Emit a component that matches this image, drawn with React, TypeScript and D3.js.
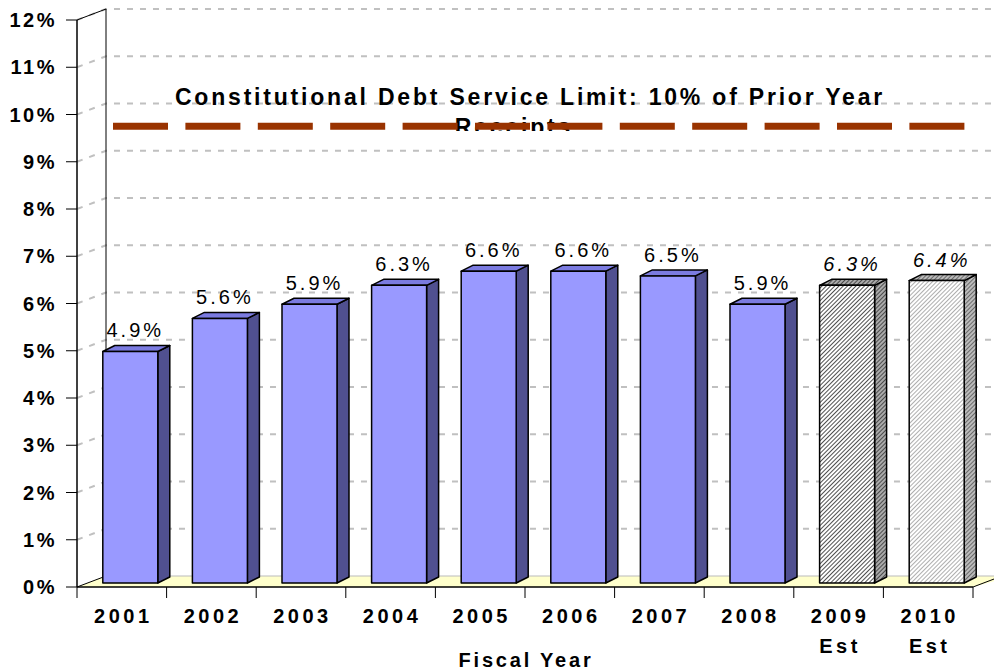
import React from "react";
import * as d3 from "d3";

const years = ["2001", "2002", "2003", "2004", "2005", "2006", "2007", "2008", "2009", "2010"];
const subLabels = ["", "", "", "", "", "", "", "", "Est", "Est"];
const debtRatio = [4.9, 5.6, 5.9, 6.3, 6.6, 6.6, 6.5, 5.9, 6.3, 6.4];
const estimated = [false, false, false, false, false, false, false, false, true, true];
const yTicks = [0, 1, 2, 3, 4, 5, 6, 7, 8, 9, 10, 11, 12];
const limitLevel = 9.75;
const limitTitle = "Constitutional Debt Service Limit: 10% of Prior Year";
const limitTitle2 = "Receipts";

const W = 994;
const H = 671;
const FONT = "'Liberation Sans', Arial, sans-serif";

// 3d depth of the box and of the bars
const DX = 29, DY = -11;
const BX0 = 8.5, BY0 = -4;
const BDX = 12, BDY = -6;

const App = () => {
  const x = d3.scaleBand().domain(years).range([77, 973]).paddingInner(0).paddingOuter(0);
  const y = d3.scaleLinear().domain([0, 12]).range([587, 20]);
  const bw = 55;

  const gridPath = (v: number) => `M${77},${y(v)} L${77 + DX},${y(v) + DY} L${W},${y(v) + DY}`;

  return (
    <svg width={W} height={H} style={{ position: "absolute", left: 0, top: 0, background: "#fff" }}>
      <defs>
        <pattern id="hatchDark" width="3" height="3" patternUnits="userSpaceOnUse" patternTransform="rotate(45)">
          <rect width="3" height="3" fill="#fff" />
          <line x1="0" y1="0" x2="0" y2="3" stroke="#222" strokeWidth="1.6" />
        </pattern>
        <pattern id="hatchDarkSide" width="3" height="3" patternUnits="userSpaceOnUse" patternTransform="rotate(45)">
          <rect width="3" height="3" fill="#aaa" />
          <line x1="0" y1="0" x2="0" y2="3" stroke="#333" strokeWidth="1.6" />
        </pattern>
        <pattern id="hatchLight" width="3" height="3" patternUnits="userSpaceOnUse" patternTransform="rotate(45)">
          <rect width="3" height="3" fill="#fff" />
          <line x1="0" y1="0" x2="0" y2="3" stroke="#999" strokeWidth="1.6" />
        </pattern>
        <pattern id="hatchLightSide" width="3" height="3" patternUnits="userSpaceOnUse" patternTransform="rotate(45)">
          <rect width="3" height="3" fill="#bbb" />
          <line x1="0" y1="0" x2="0" y2="3" stroke="#555" strokeWidth="1.6" />
        </pattern>
        <clipPath id="clipTitle2">
          <rect x="0" y="0" width={W} height="131" />
        </clipPath>
      </defs>

      {/* floor */}
      <path
        d={`M77,587 L${77 + DX},${587 + DY} L${W + 20},${587 + DY} L973,587 Z`}
        fill="#FFFFCC"
        stroke="none"
      />
      <line x1={77 + DX} y1={587 + DY} x2={W} y2={587 + DY} stroke="#bbb" strokeWidth={1} />
      <line x1={973} y1={587} x2={973 + DX} y2={587 + DY} stroke="#000" strokeWidth={1} />

      {/* gridlines */}
      {yTicks.slice(1).map((v) => (
        <path key={v} d={gridPath(v)} fill="none" stroke="#c0c0c0" strokeWidth={2} strokeDasharray="6 7" />
      ))}

      {/* walls */}
      <line x1={77 + DX} y1={y(12) + DY} x2={77 + DX} y2={587 + DY} stroke="#000" strokeWidth={1} />
      <line x1={77} y1={y(12)} x2={77 + DX} y2={y(12) + DY} stroke="#000" strokeWidth={1} />
      <line x1={77} y1={587} x2={77 + DX} y2={587 + DY} stroke="#000" strokeWidth={1} />
      <line x1={77} y1={y(12)} x2={77} y2={587} stroke="#000" strokeWidth={1.5} />
      <line x1={77} y1={587} x2={973} y2={587} stroke="#000" strokeWidth={1.5} />

      {/* y axis */}
      {yTicks.map((v) => (
        <g key={v}>
          <line x1={66} x2={77} y1={y(v)} y2={y(v)} stroke="#000" strokeWidth={1} />
          <text
            x={57}
            y={y(v)}
            dy="0.36em"
            textAnchor="end"
            fontFamily={FONT}
            fontWeight="bold"
            fontSize={20}
            letterSpacing={2.5}
          >
            {`${v}%`}
          </text>
        </g>
      ))}

      {/* x axis */}
      {years.map((yr, i) => {
        const x0 = x(yr)!;
        const cx = x0 + x.bandwidth() / 2 + 1.5;
        return (
          <g key={yr}>
            <line x1={x0} x2={x0} y1={587} y2={598} stroke="#000" strokeWidth={1} />
            <text x={cx} y={623} textAnchor="middle" fontFamily={FONT} fontWeight="bold" fontSize={20} letterSpacing={3.5}>
              {yr}
            </text>
            {subLabels[i] && (
              <text x={cx} y={653} textAnchor="middle" fontFamily={FONT} fontWeight="bold" fontSize={20} letterSpacing={3.5}>
                {subLabels[i]}
              </text>
            )}
          </g>
        );
      })}
      <line x1={973} x2={973} y1={587} y2={598} stroke="#000" strokeWidth={1} />
      <text x={526} y={667} textAnchor="middle" fontFamily={FONT} fontWeight="bold" fontSize={20} letterSpacing={2.8}>
        Fiscal Year
      </text>

      {/* bars */}
      {years.map((yr, i) => {
        const left = x(yr)! + (x.bandwidth() - bw) / 2 + BX0;
        const right = left + bw;
        const bottom = y(0) + BY0;
        const top = y(debtRatio[i]) + BY0;
        const est = estimated[i];
        const front = est ? (i === 8 ? "url(#hatchDark)" : "url(#hatchLight)") : "#9999FF";
        const side = est ? (i === 8 ? "url(#hatchDarkSide)" : "url(#hatchLightSide)") : "#505090";
        const topFill = est ? (i === 8 ? "url(#hatchDarkSide)" : "url(#hatchLightSide)") : "#7B7BE0";
        return (
          <g key={yr} stroke="#000" strokeWidth={1.5} strokeLinejoin="round">
            <path d={`M${right},${bottom} L${right + BDX},${bottom + BDY} L${right + BDX},${top + BDY} L${right},${top} Z`} fill={side} />
            <path d={`M${left},${top} L${left + BDX},${top + BDY} L${right + BDX},${top + BDY} L${right},${top} Z`} fill={topFill} />
            <rect x={left} y={top} width={bw} height={bottom - top} fill={front} />
            <text
              x={left + bw / 2 + 5}
              y={top + BDY - 8}
              textAnchor="middle"
              fontFamily={FONT}
              fontSize={20}
              fontStyle={est ? "italic" : "normal"}
              letterSpacing={3}
              stroke="none"
              fill="#000"
            >
              {`${debtRatio[i]}%`}
            </text>
          </g>
        );
      })}

      {/* limit annotation */}
      <text x={530} y={105} textAnchor="middle" fontFamily={FONT} fontWeight="bold" fontSize={23} letterSpacing={2.8}>
        {limitTitle}
      </text>
      <text
        x={514}
        y={135}
        textAnchor="middle"
        fontFamily={FONT}
        fontWeight="bold"
        fontSize={23}
        letterSpacing={2.8}
        clipPath="url(#clipTitle2)"
      >
        {limitTitle2}
      </text>
      <line
        x1={113}
        x2={968}
        y1={y(limitLevel)}
        y2={y(limitLevel)}
        stroke="#993300"
        strokeWidth={7}
        strokeDasharray="55 17.4"
      />
    </svg>
  );
};

export default App;
